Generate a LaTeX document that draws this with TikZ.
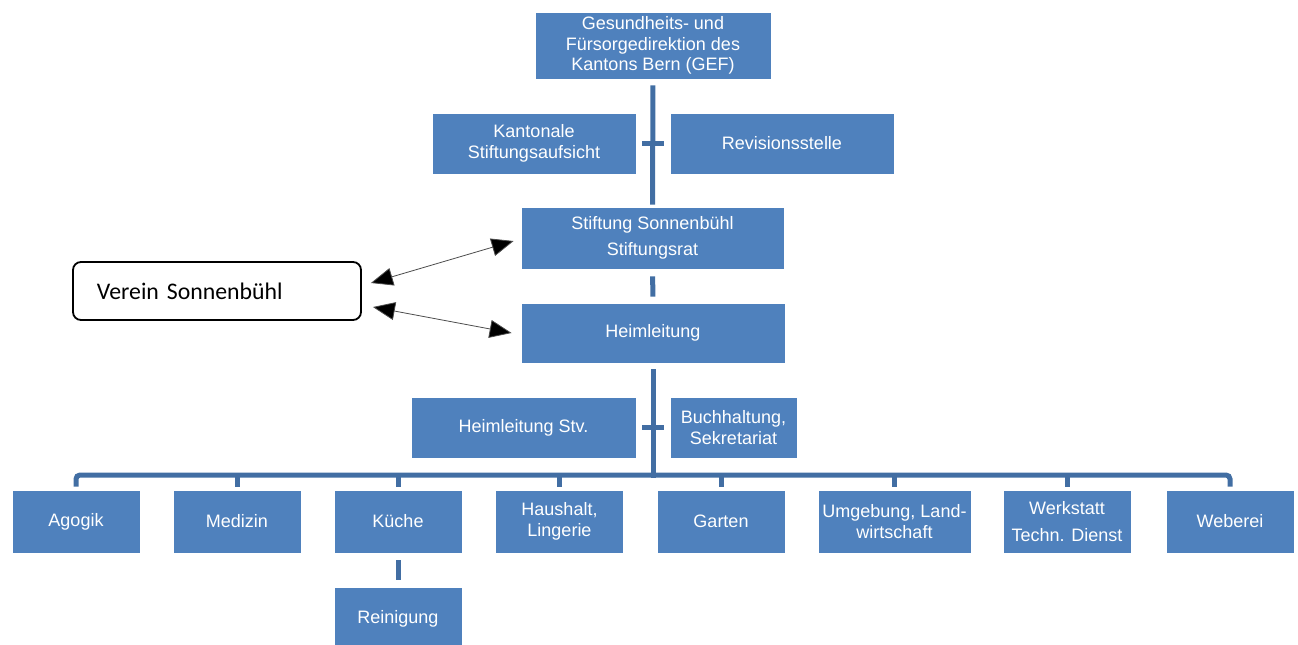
\documentclass[tikz,border=0pt]{standalone}
\usepackage{fontspec}
\setmainfont{Liberation Sans}
\newfontfamily\calibri{Carlito}
\usetikzlibrary{calc,positioning,arrows.meta}
\definecolor{orgblue}{RGB}{79,129,189}
\definecolor{orgline}{RGB}{66,110,163}
\tikzset{
  org/.style={draw=white, line width=0.4pt, fill=orgblue, text=white, align=center,
    inner sep=0pt, font=\fontsize{9}{10.3}\selectfont},
  unit/.style={org, minimum width=64pt, minimum height=31.5pt},
  link/.style={draw=orgline, line width=2.5pt},
  roundbox/.style={draw=black, line width=0.9pt, rounded corners=4pt, fill=white,
    minimum width=144pt, minimum height=29pt, inner sep=0pt},
  both/.style={draw=black!70, line width=0.4pt,
    {Triangle[length=11pt,width=9pt,fill=black]}-{Triangle[length=11pt,width=9pt,fill=black]}}
}
\begin{document}
\begin{tikzpicture}[x=0.5pt,y=-0.5pt]
  \useasboundingbox (0,0) rectangle (1298,644);
  % top level
  \node[org, minimum width=118pt, minimum height=33.5pt] (gef) at (653,45.5)
    {Gesundheits- und\\Fürsorgedirektion des\\Kantons Bern (GEF)};
  \node[org, minimum width=102pt, minimum height=30.5pt] (kant) at (534,143.5)
    {Kantonale\\Stiftungsaufsicht};
  \node[org, minimum width=112pt, minimum height=30.5pt] (rev) at (782,143.5) {Revisionsstelle};
  \node[org, minimum width=131.5pt, minimum height=31pt] (stift) at (652.5,238)
    {Stiftung Sonnenbühl\\[3pt]Stiftungsrat};
  \node[org, minimum width=132pt, minimum height=30pt] (heim) at (653,333) {Heimleitung};
  \node[org, minimum width=112.5pt, minimum height=30.5pt] (stv) at (523.5,427.5) {Heimleitung Stv.};
  \node[org, minimum width=63.5pt, minimum height=30.5pt] (buch) at (733.5,427.5)
    {Buchhaltung,\\Sekretariat};
  % verein
  \node[roundbox, text width=120pt, align=left, font=\calibri\fontsize{11.9}{14}\selectfont]
    (verein) at (217,291) {Verein Sonnenbühl};
  % departments
  \node[unit] (agogik) at (76,521.5) {Agogik};
  \node[unit] (medizin) at (237,521.5) {Medizin};
  \node[unit] (kueche) at (398,521.5) {Küche};
  \node[unit] (haushalt) at (559.5,521.5) {Haushalt,\\Lingerie};
  \node[unit] (garten) at (721,521.5) {Garten};
  \node[unit, minimum width=76.5pt] (umgebung) at (894.5,521.5) {Umgebung, Land-\\wirtschaft};
  \node[unit] (werkstatt) at (1067,521.5) {Werkstatt\\[3pt]Techn. Dienst};
  \node[unit] (weberei) at (1230,521.5) {Weberei};
  \node[unit] (reinigung) at (398,618.5) {Reinigung};
  \coordinate (bus) at (653,475);
  % lines
  \draw[link, shorten <=3pt, shorten >=1pt] (gef) -- (stift);
  \draw[link, shorten <=3pt, shorten >=3pt] (kant) -- (rev);
  \draw[link, shorten <=3.5pt, shorten >=3pt] (stift) -- (heim);
  \draw[link, shorten <=3pt] (heim.south) -- ([yshift=-1.25pt]bus);
  \draw[link, shorten <=3pt, shorten >=3pt] (stv) -- (buch);
  \draw[link, rounded corners=2pt, shorten <=1.5pt, shorten >=1.5pt]
    (agogik.north) |- (bus) -| (weberei.north);
  \foreach \d in {medizin,kueche,haushalt,garten,umgebung,werkstatt}
    \draw[link, shorten <=1.5pt] (\d.north) -- (\d.north |- bus);
  \draw[link, shorten <=3.5pt, shorten >=3.5pt] (kueche) -- (reinigung);
  % arrows
  \draw[both] ([shift={(9,-8)}]verein.east) -- ([shift={(-7,3)}]stift.west);
  \draw[both] ([shift={(11,16)}]verein.east) -- ([shift={(-9,0)}]heim.west);
\end{tikzpicture}
\end{document}
